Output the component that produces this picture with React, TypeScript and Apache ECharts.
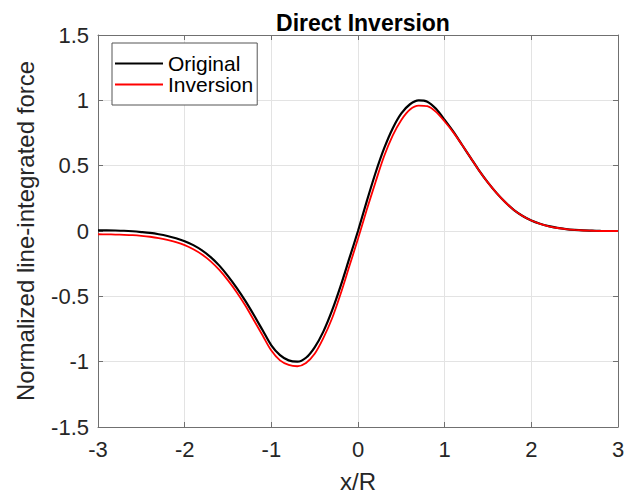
import React, { useEffect, useRef } from "react";
import * as echarts from "echarts";

// Sample positions along x/R
const xPos = [
  -3.0, -2.9, -2.8, -2.7, -2.6, -2.5, -2.4, -2.3, -2.2, -2.1,
  -2.0, -1.9, -1.8, -1.7, -1.6, -1.5, -1.4, -1.3, -1.2, -1.1,
  -1.0, -0.9, -0.8, -0.7, -0.6, -0.5, -0.4, -0.3, -0.2, -0.1,
  0.0, 0.1, 0.2, 0.3, 0.4, 0.5, 0.6, 0.7, 0.8, 0.9,
  1.0, 1.1, 1.2, 1.3, 1.4, 1.5, 1.6, 1.7, 1.8, 1.9,
  2.0, 2.1, 2.2, 2.3, 2.4, 2.5, 2.6, 2.7, 2.8, 2.9, 3.0,
];

// Original normalized line-integrated force
const original = [
  0.005, 0.005, 0.004, 0.002, -0.002, -0.008, -0.015, -0.025, -0.038, -0.055,
  -0.078, -0.108, -0.148, -0.2, -0.265, -0.345, -0.435, -0.535, -0.645, -0.76,
  -0.875, -0.95, -0.99, -1.0, -0.97, -0.89, -0.77, -0.61, -0.42, -0.21,
  0.0, 0.225, 0.44, 0.63, 0.785, 0.9, 0.97, 1.0, 0.99, 0.935,
  0.85, 0.76, 0.66, 0.56, 0.46, 0.37, 0.29, 0.22, 0.16, 0.115,
  0.08, 0.055, 0.037, 0.024, 0.015, 0.009, 0.005, 0.003, 0.001, 0.0, 0.0,
];

// Result of the direct inversion
const inversion = [
  -0.025, -0.026, -0.027, -0.029, -0.032, -0.037, -0.044, -0.054, -0.068, -0.085,
  -0.108, -0.14, -0.18, -0.232, -0.298, -0.378, -0.468, -0.57, -0.685, -0.8,
  -0.915, -0.99, -1.025, -1.035, -1.01, -0.94, -0.82, -0.67, -0.48, -0.27,
  -0.06, 0.16, 0.37, 0.57, 0.73, 0.85, 0.93, 0.96, 0.955, 0.912,
  0.838, 0.755, 0.66, 0.56, 0.46, 0.37, 0.29, 0.22, 0.16, 0.115,
  0.08, 0.055, 0.036, 0.023, 0.014, 0.008, 0.004, 0.002, 0.0, 0.0, 0.0,
];

const seriesNames = ["Original", "Inversion"];
const seriesColors = ["#000000", "#ff0000"];

const FONT = "'Liberation Sans', Arial, Helvetica, sans-serif";
const AXIS_COLOR = "#707070";
const LABEL_COLOR = "#262626";
const GRID_COLOR = "#e3e3e3";

export default function App() {
  const ref = useRef<HTMLDivElement>(null);

  useEffect(() => {
    if (!ref.current) return;
    const chart = echarts.init(ref.current, undefined, { renderer: "svg" });

    const pairs = (vals: number[]) => xPos.map((x, i) => [x, vals[i]]);

    const boxAxisLine = { show: true, onZero: false, lineStyle: { color: AXIS_COLOR, width: 1 } };
    const tick = { show: true, inside: true, length: 5, lineStyle: { color: AXIS_COLOR } };

    chart.setOption({
      animation: false,
      backgroundColor: "#ffffff",
      textStyle: { fontFamily: FONT },
      title: {
        text: "Direct Inversion",
        left: 358,
        top: 6,
        textAlign: "center",
        textStyle: { fontFamily: FONT, fontSize: 23, fontWeight: "bold", color: "#000" },
      },
      legend: {
        orient: "vertical",
        left: 112,
        top: 43,
        padding: [10, 4, 10, 3],
        icon: "rect",
        itemWidth: 48,
        itemHeight: 2,
        itemGap: 0,
        borderColor: "#555555",
        borderWidth: 1,
        backgroundColor: "#ffffff",
        textStyle: { fontFamily: FONT, fontSize: 21, lineHeight: 20, color: "#000" },
        data: seriesNames,
      },
      grid: { left: 98, top: 35, right: 16, bottom: 65, containLabel: false },
      xAxis: [
        {
          type: "value",
          min: -3,
          max: 3,
          interval: 1,
          name: "x/R",
          nameLocation: "middle",
          nameGap: 42,
          nameTextStyle: { fontFamily: FONT, fontSize: 24, color: LABEL_COLOR },
          axisLine: boxAxisLine,
          axisTick: tick,
          axisLabel: { fontFamily: FONT, fontSize: 22, color: LABEL_COLOR, margin: 11 },
          splitLine: { show: true, lineStyle: { color: GRID_COLOR, width: 1 } },
        },
        {
          type: "value",
          position: "top",
          min: -3,
          max: 3,
          interval: 1,
          axisLine: boxAxisLine,
          axisTick: tick,
          axisLabel: { show: false },
          splitLine: { show: false },
        },
      ],
      yAxis: [
        {
          type: "value",
          min: -1.5,
          max: 1.5,
          interval: 0.5,
          name: "Normalized line-integrated force",
          nameLocation: "middle",
          nameGap: 61,
          nameTextStyle: { fontFamily: FONT, fontSize: 24, color: LABEL_COLOR },
          axisLine: boxAxisLine,
          axisTick: tick,
          axisLabel: { fontFamily: FONT, fontSize: 22, color: LABEL_COLOR, margin: 9 },
          splitLine: { show: true, lineStyle: { color: GRID_COLOR, width: 1 } },
        },
        {
          type: "value",
          position: "right",
          min: -1.5,
          max: 1.5,
          interval: 0.5,
          axisLine: boxAxisLine,
          axisTick: tick,
          axisLabel: { show: false },
          splitLine: { show: false },
        },
      ],
      series: [
        {
          name: seriesNames[0],
          type: "line",
          data: pairs(original),
          symbol: "none",
          smooth: 0.3,
          color: seriesColors[0],
          lineStyle: { color: seriesColors[0], width: 2.2 },
          z: 3,
        },
        {
          name: seriesNames[1],
          type: "line",
          data: pairs(inversion),
          symbol: "none",
          smooth: 0.3,
          color: seriesColors[1],
          lineStyle: { color: seriesColors[1], width: 1.8 },
          z: 4,
        },
      ],
    });

    return () => chart.dispose();
  }, []);

  return <div ref={ref} style={{ width: 634, height: 498, position: "absolute", left: 0, top: 0 }} />;
}
